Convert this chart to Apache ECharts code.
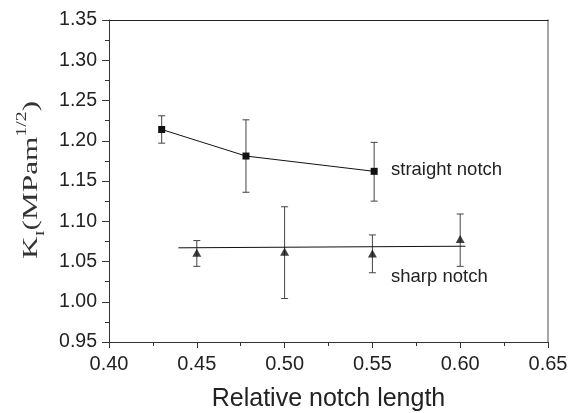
<!DOCTYPE html>
<html>
<head>
<meta charset="utf-8">
<script src="https://cdn.jsdelivr.net/npm/echarts@6/dist/echarts.min.js"></script>
<style>
  html, body { margin: 0; padding: 0; background: #fff; }
  #chart { width: 575px; height: 413px; }
</style>
</head>
<body>
<div id="chart"></div>
<script>
// straight notch: x, K_I, error bar limits
var straightX = [0.430, 0.478, 0.551];
var straightY = [1.214, 1.181, 1.162];
var straightLow = [1.197, 1.136, 1.125];
var straightHigh = [1.231, 1.226, 1.198];

// sharp notch
var sharpX = [0.45, 0.50, 0.55, 0.60];
var sharpY = [1.061, 1.062, 1.060, 1.078];
var sharpLow = [1.044, 1.004, 1.036, 1.044];
var sharpHigh = [1.076, 1.118, 1.083, 1.109];

// linear fit through sharp notch points
var fitX = [0.4395, 0.603];
var fitY = [1.067, 1.069];

var xTicks = ['0.40', '0.45', '0.50', '0.55', '0.60', '0.65'];
var yTicks = ['0.95', '1.00', '1.05', '1.10', '1.15', '1.20', '1.25', '1.30', '1.35'];

var font = 'Liberation Sans, Arial, sans-serif';
var serif = 'Liberation Serif, Times New Roman, serif';
var axisColor = '#333';

function pairs(xs, ys) {
    var out = [];
    for (var i = 0; i < xs.length; i++) out.push([xs[i], ys[i]]);
    return out;
}
function errRows(xs, lo, hi) {
    var out = [];
    for (var i = 0; i < xs.length; i++) out.push([xs[i], lo[i], hi[i]]);
    return out;
}

function renderErr(params, api) {
    var x = api.value(0);
    var lo = api.coord([x, api.value(1)]);
    var hi = api.coord([x, api.value(2)]);
    var w = 3.5;
    var st = { stroke: '#444', lineWidth: 1 };
    return {
        type: 'group',
        children: [
            { type: 'line', shape: { x1: lo[0], y1: lo[1], x2: hi[0], y2: hi[1] }, style: st },
            { type: 'line', shape: { x1: hi[0] - w, y1: hi[1], x2: hi[0] + w, y2: hi[1] }, style: st },
            { type: 'line', shape: { x1: lo[0] - w, y1: lo[1], x2: lo[0] + w, y2: lo[1] }, style: st }
        ]
    };
}

var chart = echarts.init(document.getElementById('chart'));
var option = {
    animation: false,
    backgroundColor: '#fff',
    grid: { left: 109, top: 20, right: 27, bottom: 71, outerBoundsMode: 'none' },
    xAxis: [{
        type: 'value',
        min: 0.40, max: 0.65, interval: 0.05,
        name: 'Relative notch length',
        nameLocation: 'middle',
        nameGap: 45,
        nameTextStyle: { fontFamily: font, fontSize: 25, color: '#222' },
        axisLine: { lineStyle: { color: axisColor, width: 1 } },
        axisTick: { show: true, length: 6, lineStyle: { color: axisColor } },
        minorTick: { show: true, splitNumber: 2, length: 4, lineStyle: { color: axisColor } },
        splitLine: { show: false },
        axisLabel: {
            fontFamily: font, fontSize: 20, color: '#222', margin: 12,
            formatter: function (v) { return xTicks[Math.round((v - 0.40) / 0.05)]; }
        }
    }, {
        type: 'value', position: 'top',
        min: 0.40, max: 0.65,
        axisLine: { show: true, lineStyle: { color: '#222', width: 1 } },
        axisTick: { show: false }, axisLabel: { show: false }, splitLine: { show: false }
    }],
    yAxis: [{
        type: 'value',
        min: 0.95, max: 1.35, interval: 0.05,
        axisLine: { show: true, lineStyle: { color: axisColor, width: 1 } },
        axisTick: { show: true, length: 7, lineStyle: { color: axisColor } },
        minorTick: { show: true, splitNumber: 2, length: 4, lineStyle: { color: axisColor } },
        splitLine: { show: false },
        axisLabel: {
            fontFamily: font, fontSize: 19.5, color: '#222', margin: 12,
            formatter: function (v) { return yTicks[Math.round((v - 0.95) / 0.05)]; }
        }
    }, {
        type: 'value', position: 'right',
        min: 0.95, max: 1.35,
        axisLine: { show: true, lineStyle: { color: '#888', width: 1.5 } },
        axisTick: { show: false }, axisLabel: { show: false }, splitLine: { show: false }
    }],
    series: [
        {
            type: 'custom', name: 'straight err',
            renderItem: renderErr,
            data: errRows(straightX, straightLow, straightHigh),
            encode: { x: 0, y: [1, 2] }, z: 2
        },
        {
            type: 'custom', name: 'sharp err',
            renderItem: renderErr,
            data: errRows(sharpX, sharpLow, sharpHigh),
            encode: { x: 0, y: [1, 2] }, z: 2
        },
        {
            type: 'line', name: 'straight notch',
            data: pairs(straightX, straightY),
            symbol: 'rect', symbolSize: 7,
            lineStyle: { color: '#111', width: 1 },
            itemStyle: { color: '#111' }, z: 3
        },
        {
            type: 'line', name: 'fit',
            data: pairs(fitX, fitY),
            showSymbol: false, symbol: 'none',
            lineStyle: { color: '#111', width: 1 }, z: 3
        },
        {
            type: 'scatter', name: 'sharp notch',
            data: pairs(sharpX, sharpY),
            symbol: 'triangle', symbolSize: [9, 8],
            itemStyle: { color: '#111' }, z: 4
        }
    ],
    graphic: [
        { type: 'text', left: 391, top: 160, style: { text: 'straight notch', font: '18.5px ' + font, fill: '#222' } },
        { type: 'text', left: 391, top: 267, style: { text: 'sharp notch', font: '18.5px ' + font, fill: '#222' } },
        {
            // y axis title, stretched along the text direction like the original
            type: 'text', x: 31, y: 180, rotation: Math.PI / 2, scaleX: 1.42, scaleY: 1,
            style: {
                text: '{k|K}{sub|I}{k|(MPam}{sup|1/2}{k|)}',
                align: 'center', verticalAlign: 'middle',
                rich: {
                    k: { fontFamily: serif, fontSize: 22, fill: '#333', lineHeight: 32, verticalAlign: 'middle' },
                    sub: { fontFamily: serif, fontSize: 13, fill: '#333', lineHeight: 32, verticalAlign: 'bottom' },
                    sup: { fontFamily: serif, fontSize: 14, fill: '#333', lineHeight: 32, verticalAlign: 'top' }
                }
            }
        }
    ]
};
chart.setOption(option);
</script>
</body>
</html>
